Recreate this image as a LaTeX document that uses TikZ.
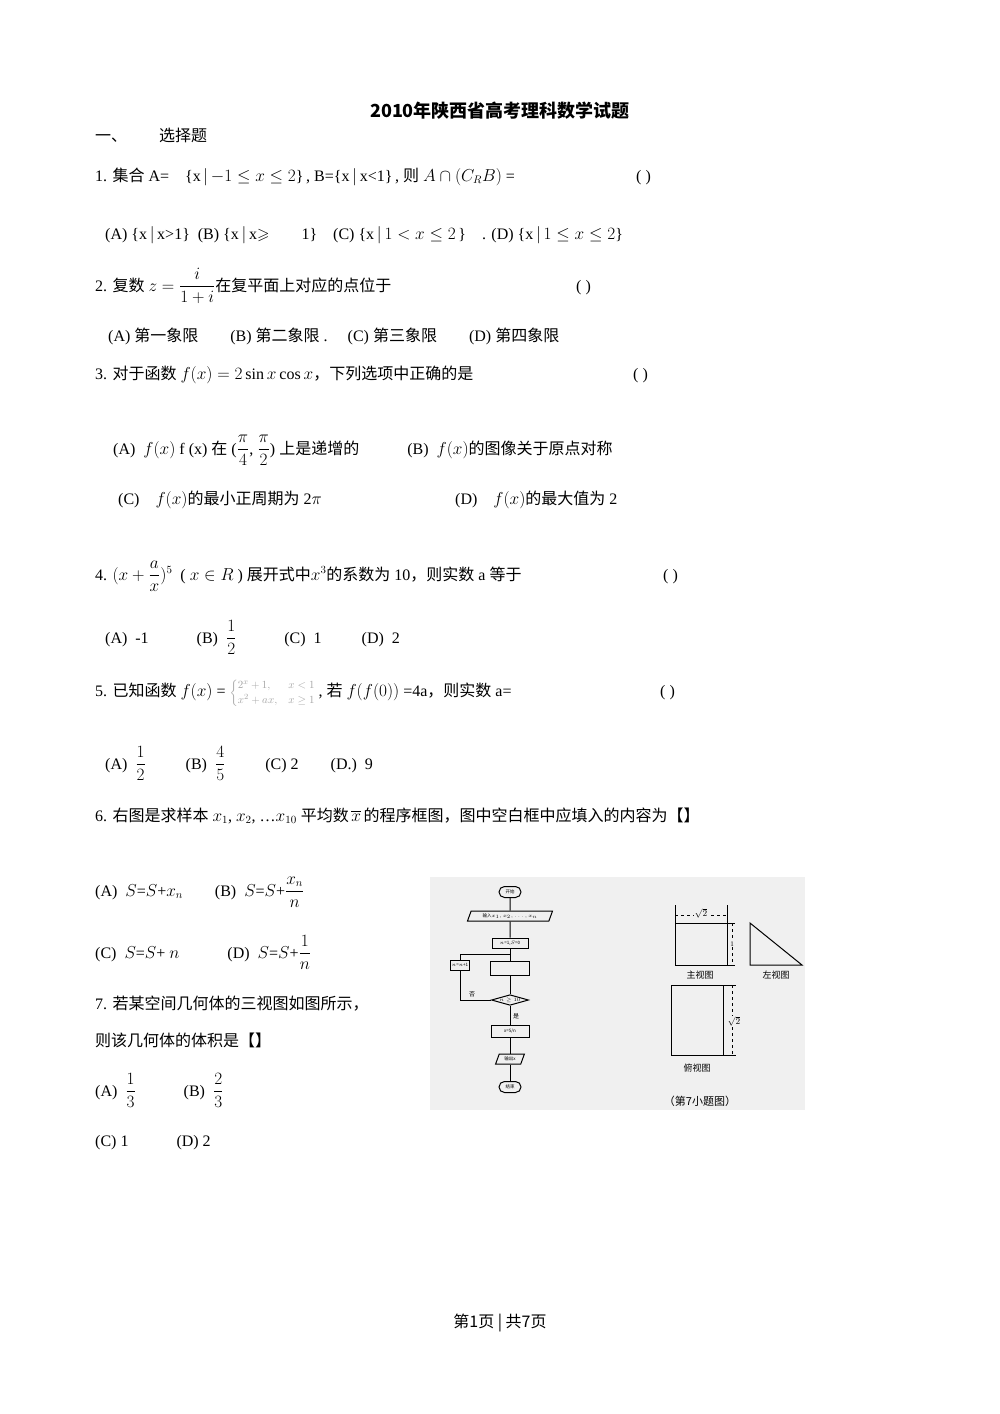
\documentclass[tikz,border=0pt]{standalone}
\usepackage{fontspec}
\usepackage{amsmath,amssymb}
\setmainfont{Liberation Serif}
\newfontfamily\cjk{Noto Sans CJK SC}
\newcommand{\zh}[1]{{\cjk #1}}
\usetikzlibrary{shapes.geometric,shapes.misc}
\begin{document}
\begin{tikzpicture}[x=1pt,y=-1pt,
  t/.style={anchor=base west,inner sep=0pt,font=\fontsize{16}{19}\selectfont},
  fc/.style={draw,line width=1pt,font=\fontsize{4.5}{5}\selectfont\cjk,inner sep=1pt},
  fl/.style={line width=1pt}]
\useasboundingbox (0,0) rectangle (1000,1414);
\fill[white] (0,0) rectangle (1000,1414);
\node[anchor=base,inner sep=0pt,font=\fontsize{18}{20}\selectfont\cjk\bfseries] (title) at (500,117) {2010年陕西省高考理科数学试题};
\node[t] (h1) at (95,141) {\zh{一、\qquad 选择题}};
% Q1
\node[t] (q1) at (95,181) {1. \zh{集合} A=\quad \{x\,$|$\,$-1\le x\le 2$\}\,, B=\{x\,$|$\,x<1\}\,, \zh{则} $A\cap(C_RB)$ =};
\node[t] (q1p) at (636,181) {( )};
\node[t] (q1o) at (105,239) {(A)\ \{x\,$|$\,x>1\}\ \ (B)\ \{x\,$|$\,x$\geqslant$\qquad 1\}\quad (C)\ \{x\,$|\,1<x\le2$\,\}\quad . (D)\ \{x\,$|\,1\le x\le 2$\}};
% Q2
\node[t] (q2) at (95,291) {2. \zh{复数} $z=\dfrac{i}{1+i}$\zh{在复平面上对应的点位于}};
\node[t] (q2p) at (576,291) {( )};
\node[t] (q2o) at (108,341) {(A)\ \zh{第一象限}\qquad (B)\ \zh{第二象限}\ .\quad\ (C)\ \zh{第三象限}\qquad (D)\ \zh{第四象限}};
% Q3
\node[t] (q3) at (95,379) {3. \zh{对于函数} $f(x)=2\sin x\cos x$\zh{，下列选项中正确的是}};
\node[t] (q3p) at (633,379) {( )};
\node[t] (q3a) at (113,454) {(A)\ \ $f(x)$ f\ (x)\ \zh{在}\ ($\dfrac{\pi}{4}$,\ $\dfrac{\pi}{2}$)\ \zh{上是递增的}\qquad\quad (B)\ \ $f(x)$\zh{的图像关于原点对称}};
\node[t] (q3c) at (118,504) {(C)\quad $f(x)$\zh{的最小正周期为} 2$\pi$};
\node[t] (q3d) at (455,504) {(D)\quad $f(x)$\zh{的最大值为} 2};
% Q4
\node[t] (q4) at (95,580) {4. $(x+\dfrac{a}{x})^5$\ \ ( $x\in R$ ) \zh{展开式中}$x^3$\zh{的系数为} 10\zh{，则实数} a \zh{等于}};
\node[t] (q4p) at (663,580) {( )};
\node[t] (q4o) at (105,643) {(A)\ \ -1\qquad\quad (B)\ \ $\dfrac12$\qquad\quad (C)\ \ 1\qquad\ \ (D)\ \ 2};
% Q5
\node[t] (q5) at (95,696) {5. \zh{已知函数} $f(x)$ = {\color{black!35}\fontsize{11}{12}\selectfont$\begin{cases}2^x+1, & x<1\\ x^2+ax, & x\ge1\end{cases}$}\,, \zh{若} $f(f(0))$ =4a\zh{，则实数} a=};
\node[t] (q5p) at (660,696) {( )};
\node[t] (q5o) at (105,769) {(A)\ \ $\dfrac12$\qquad\ \ (B)\ \ $\dfrac45$\qquad\ \ (C) 2\qquad (D.)\ \ 9};
% Q6
\node[t] (q6) at (95,821) {6. \zh{右图是求样本} $x_1$, $x_2$, \dots$x_{10}$ \zh{平均数}\,$\overline{x}$\,\zh{的程序框图，图中空白框中应填入的内容为【】}};
\node[t] (q6a) at (95,896) {(A)\ \ $S$=$S$+$x_n$\qquad (B)\ \ $S$=$S$+$\dfrac{x_n}{n}$};
\node[t] (q6c) at (95,958) {(C)\ \ $S$=$S$+\ $n$\qquad\quad (D)\ \ $S$=$S$+$\dfrac1n$};
% Q7
\node[t] (q7) at (95,1009) {7. \zh{若某空间几何体的三视图如图所示，}};
\node[t] (q7b) at (95,1046) {\zh{则该几何体的体积是【】}};
\node[t] (q7a) at (95,1096) {(A)\ \ $\dfrac13$\qquad\quad (B)\ \ $\dfrac23$};
\node[t] (q7c) at (95,1146) {(C)\ 1\qquad\quad (D)\ 2};
% figure
\fill[black!6] (430,877) rectangle (805,1110);
\node[fc,rounded rectangle,minimum width=24pt,minimum height=11pt] (st) at (510,892) {开始};
\node[fc,trapezium,trapezium left angle=70,trapezium right angle=110,minimum height=10pt] (in) at (510,916) {输入$x_1,x_2,\dots,x_n$};
\node[fc,minimum width=36pt,minimum height=10pt] (init) at (510,943) {$n$=1,$S$=0};
\node[fc,minimum width=39pt,minimum height=14pt] (blank) at (510,968) {};
\node[fc,diamond,aspect=3.5,inner sep=0pt] (dec) at (510,1000) {$n\ge10$};
\node[fc,minimum height=10pt] (inc) at (460,965) {$n$=$n$+1};
\node[fc,minimum width=38pt,minimum height=12pt] (avg) at (510,1031) {x=S/n};
\node[fc,trapezium,trapezium left angle=70,trapezium right angle=110,minimum height=10pt] (out) at (510,1059) {输出x};
\node[fc,rounded rectangle,minimum width=24pt,minimum height=11pt] (en) at (510,1087) {结束};
\draw[fl] (st)--(in); \draw[fl] (in)--(init); \draw[fl] (init)--(blank);
\draw[fl] (blank)--(dec); \draw[fl] (dec)--(avg); \draw[fl] (avg)--(out); \draw[fl] (out)--(en);
\coordinate (lc) at (460,1000); \coordinate (tc) at (460,954); \coordinate (tr) at (510,954);
\draw[fl] (dec.west)--(lc)--(inc.south); \draw[fl] (inc.north)--(tc)--(tr);
\node[font=\fontsize{6}{7}\selectfont\cjk,inner sep=0pt] (no) at (472,994) {否};
\node[font=\fontsize{6}{7}\selectfont\cjk,inner sep=0pt] (yes) at (516,1016) {是};
% three views
\coordinate (f1) at (675,923); \coordinate (f2) at (727,923); \coordinate (f3) at (727,965); \coordinate (f4) at (675,965);
\draw[fl] (f1)--(f2)--(f3)--(f4)--cycle;
\draw (675,905)--(f1); \draw (727,905)--(f2);
\draw[dashed] (675,915)--(727,915);
\node[fill=black!6,inner sep=1pt,font=\fontsize{9}{10}\selectfont] (r2a) at (701,913) {$\sqrt2$};
\draw (727,923)--(735,923); \draw (727,965)--(735,965);
\draw[dashed] (732,923)--(732,965);
\node[fill=black!6,inner sep=0.5pt,font=\fontsize{7}{8}\selectfont] (one) at (732,944) {1};
\draw[fl] (750,923)--(750,965)--(802,965)--cycle;
\node[font=\fontsize{9}{10}\selectfont\cjk,inner sep=0pt] (zv) at (700,975) {主视图};
\node[font=\fontsize{9}{10}\selectfont\cjk,inner sep=0pt] (lv) at (776,975) {左视图};
\draw[fl] (671,985) rectangle (723,1055);
\draw (723,985)--(736,985); \draw (723,1055)--(736,1055);
\draw[dashed] (732,985)--(732,1055);
\node[fill=black!6,inner sep=0.5pt,font=\fontsize{9}{10}\selectfont] (r2b) at (734,1021) {$\sqrt2$};
\node[font=\fontsize{9}{10}\selectfont\cjk,inner sep=0pt] (tv) at (697,1068) {俯视图};
\node[font=\fontsize{11}{12}\selectfont\cjk,inner sep=0pt] (cap) at (700,1101) {（第7小题图）};
% footer
\node[anchor=base,inner sep=0pt,font=\fontsize{16}{18}\selectfont\cjk] (ft) at (500,1327) {第1页 | 共7页};
\end{tikzpicture}
\end{document}
